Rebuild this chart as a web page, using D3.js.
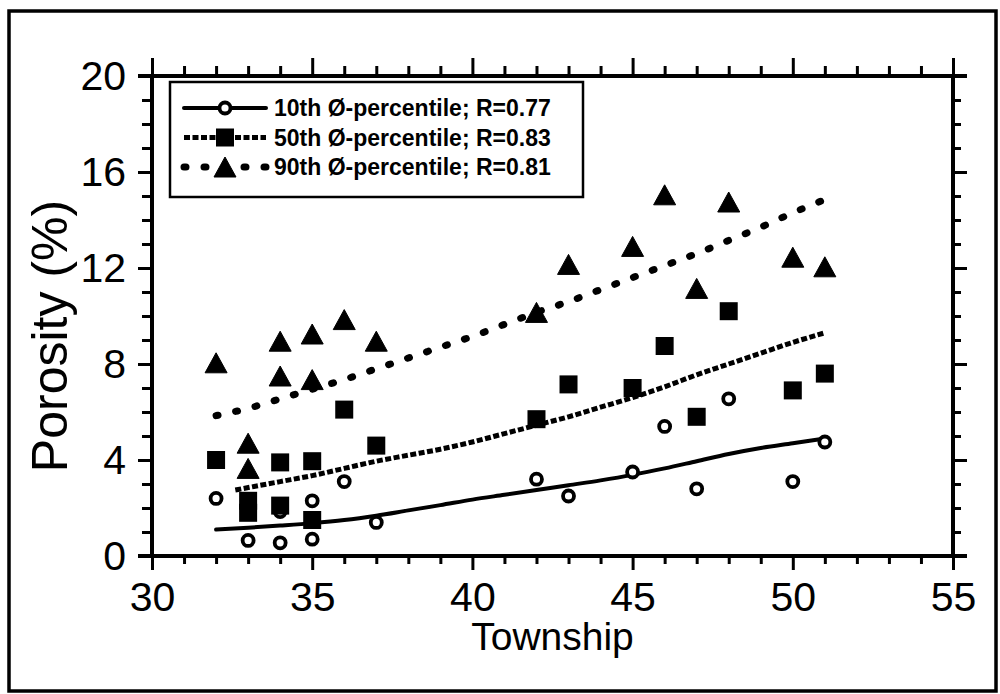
<!DOCTYPE html>
<html>
<head>
<meta charset="utf-8">
<script src="https://cdn.jsdelivr.net/npm/d3@7"></script>
<style>
  html, body { margin: 0; padding: 0; background: #fff; }
  svg { display: block; }
  text { font-family: "Liberation Sans", Arial, Helvetica, sans-serif; fill: #000; }
</style>
</head>
<body>
<svg id="chart" width="1000" height="694"></svg>
<script>
// Porosity percentiles by township, with fitted trend curves.
const townships = [32, 33, 33, 34, 34, 35, 35, 36, 37, 42, 43, 45, 46, 47, 48, 50, 51];
const townships10 = [32, 33, 34, 34, 35, 35, 36, 37, 42, 43, 45, 46, 47, 48, 50, 51];
const porosity10 = [2.4, 0.65, 1.85, 0.55, 2.3, 0.7, 3.1, 1.4, 3.2, 2.5, 3.5, 5.4, 2.8, 6.55, 3.1, 4.75];
const porosity50 = [4.0, 2.3, 1.8, 3.9, 2.1, 3.95, 1.5, 6.1, 4.6, 5.7, 7.15, 7.0, 8.75, 5.8, 10.2, 6.9, 7.6];
const porosity90 = [8.05, 4.7, 3.65, 8.95, 7.5, 9.25, 7.35, 9.85, 8.95, 10.15, 12.15, 12.9, 15.05, 11.15, 14.75, 12.45, 12.05];

// Trend curves
const fitTownship = [32, 33, 34, 35, 36, 37, 38, 39, 40, 41, 42, 43, 44, 45, 46, 47, 48, 49, 50, 51];
const fit10 = [1.1, 1.18, 1.27, 1.37, 1.5, 1.68, 1.9, 2.12, 2.35, 2.55, 2.75, 2.95, 3.15, 3.38, 3.65, 3.95, 4.25, 4.5, 4.7, 4.9];
const fit50Township = [32.6, 34, 35, 36, 37, 38, 39, 40, 41, 42, 43, 44, 45, 46, 47, 48, 49, 50, 51];
const fit50 = [2.75, 3.1, 3.35, 3.65, 3.95, 4.2, 4.45, 4.75, 5.1, 5.45, 5.8, 6.2, 6.6, 7.05, 7.55, 8.0, 8.45, 8.9, 9.3];
const fit90 = [5.85, 6.15, 6.55, 6.95, 7.35, 7.8, 8.25, 8.7, 9.15, 9.65, 10.15, 10.6, 11.1, 11.6, 12.1, 12.6, 13.15, 13.7, 14.3, 14.85];

const legendLabels = [
  "10th Ø-percentile; R=0.77",
  "50th Ø-percentile; R=0.83",
  "90th Ø-percentile; R=0.81"
];

const xTicks = [30, 35, 40, 45, 50, 55];
const yTicks = [0, 4, 8, 12, 16, 20];

const svg = d3.select("#chart");

const x = d3.scaleLinear().domain([30, 55]).range([152, 953]);
const y = d3.scaleLinear().domain([0, 20]).range([556, 76]);

const AX = 4;          // axis line width
const MAJOR = 14, MINOR = 8;
const FONT = 41;

// outer frame
svg.append("rect")
  .attr("x", 9).attr("y", 11).attr("width", 987).attr("height", 680)
  .attr("fill", "none").attr("stroke", "#000").attr("stroke-width", 3.5);

// line styles
const styles = {
  p10: { dash: null, width: 4, cap: "round" },
  p50: { dash: "6,2.5", width: 5, cap: "butt" },
  p90: { dash: "2,18", width: 7, cap: "round" }
};

const line = d3.line().x(d => x(d[0])).y(d => y(d[1])).curve(d3.curveMonotoneX);

function drawFit(xs, ys, st) {
  svg.append("path")
    .datum(xs.map((t, i) => [t, ys[i]]))
    .attr("d", line)
    .attr("fill", "none")
    .attr("stroke", "#000")
    .attr("stroke-width", st.width)
    .attr("stroke-linecap", st.cap)
    .attr("stroke-dasharray", st.dash);
}
drawFit(fitTownship, fit90, styles.p90);
drawFit(fit50Township, fit50, styles.p50);
drawFit(fitTownship, fit10, styles.p10);

// marker shapes
const SQ = 18, TW = 22, TH = 20, CR = 5.5;
function circleMark(g) {
  g.append("circle").attr("r", CR).attr("fill", "#fff").attr("stroke", "#000").attr("stroke-width", 3.8);
}
function squareMark(g) {
  g.append("rect").attr("x", -SQ / 2).attr("y", -SQ / 2).attr("width", SQ).attr("height", SQ).attr("fill", "#000");
}
function triMark(g) {
  g.append("path").attr("d", `M0,${-TH / 2}L${TW / 2},${TH / 2}L${-TW / 2},${TH / 2}Z`)
    .attr("fill", "#000").attr("stroke", "#000").attr("stroke-width", 1).attr("stroke-linejoin", "round");
}

function drawPoints(xs, ys, mark) {
  xs.forEach((t, i) => {
    const g = svg.append("g").attr("transform", `translate(${x(t)},${y(ys[i])})`);
    mark(g);
  });
}
drawPoints(townships10, porosity10, circleMark);
drawPoints(townships, porosity50, squareMark);
drawPoints(townships, porosity90, triMark);

// axes
function styleAxis(g) {
  g.selectAll(".domain").remove();
  g.selectAll(".tick line").attr("stroke", "#000").attr("stroke-width", 3);
  g.selectAll("text").attr("font-size", FONT).attr("font-family", '"Liberation Sans", Arial, sans-serif');
}
const minorX = d3.range(30, 56, 1).filter(v => v % 5 !== 0);
const minorY = d3.range(0, 21, 1).filter(v => v % 4 !== 0);

// bottom
svg.append("g").attr("transform", `translate(0,${y(0)})`)
  .call(d3.axisBottom(x).tickValues(xTicks).tickSize(MAJOR).tickPadding(12).tickFormat(d3.format("d")))
  .call(styleAxis);
svg.append("g").attr("transform", `translate(0,${y(0)})`)
  .call(d3.axisBottom(x).tickValues(minorX).tickSize(MINOR).tickFormat(""))
  .call(styleAxis);
// top
svg.append("g").attr("transform", `translate(0,${y(20)})`)
  .call(d3.axisTop(x).tickValues(xTicks).tickSize(MAJOR + 4).tickFormat(""))
  .call(styleAxis);
svg.append("g").attr("transform", `translate(0,${y(20)})`)
  .call(d3.axisTop(x).tickValues(minorX).tickSize(MINOR + 2).tickFormat(""))
  .call(styleAxis);
// left
svg.append("g").attr("transform", `translate(${x(30)},0)`)
  .call(d3.axisLeft(y).tickValues(yTicks).tickSize(MAJOR).tickPadding(12).tickFormat(d3.format("d")))
  .call(styleAxis);
svg.append("g").attr("transform", `translate(${x(30)},0)`)
  .call(d3.axisLeft(y).tickValues(minorY).tickSize(MINOR + 2).tickFormat(""))
  .call(styleAxis);
// right
svg.append("g").attr("transform", `translate(${x(55)},0)`)
  .call(d3.axisRight(y).tickValues(yTicks).tickSize(MAJOR).tickFormat(""))
  .call(styleAxis);
svg.append("g").attr("transform", `translate(${x(55)},0)`)
  .call(d3.axisRight(y).tickValues(minorY).tickSize(MINOR).tickFormat(""))
  .call(styleAxis);

// plot box lines
const ext = 14;
svg.append("line").attr("x1", x(30) - ext).attr("x2", x(55) + ext).attr("y1", y(0)).attr("y2", y(0))
  .attr("stroke", "#000").attr("stroke-width", AX);
svg.append("line").attr("x1", x(30) - ext).attr("x2", x(55) + ext).attr("y1", y(20)).attr("y2", y(20))
  .attr("stroke", "#000").attr("stroke-width", AX);
svg.append("line").attr("x1", x(30)).attr("x2", x(30)).attr("y1", y(20)).attr("y2", y(0))
  .attr("stroke", "#000").attr("stroke-width", AX);
svg.append("line").attr("x1", x(55)).attr("x2", x(55)).attr("y1", y(20)).attr("y2", y(0))
  .attr("stroke", "#000").attr("stroke-width", AX);

// axis titles
svg.append("text")
  .attr("x", (x(30) + x(55)) / 2).attr("y", 650)
  .attr("text-anchor", "middle").attr("font-size", 39)
  .text("Township");
svg.append("text")
  .attr("transform", `translate(67,${(y(0) + y(20)) / 2 + 20}) rotate(-90)`)
  .attr("text-anchor", "middle").attr("font-size", 50)
  .text("Porosity (%)");

// legend
const lg = svg.append("g");
lg.append("rect").attr("x", 170).attr("y", 82).attr("width", 413).attr("height", 115)
  .attr("fill", "#fff").attr("stroke", "#000").attr("stroke-width", 2.5);
const legendRows = [
  { st: styles.p10, mark: circleMark },
  { st: styles.p50, mark: squareMark },
  { st: styles.p90, mark: triMark }
];
legendRows.forEach((r, i) => {
  const cy = 108 + i * 29.5;
  lg.append("line").attr("x1", 184).attr("x2", 266).attr("y1", cy).attr("y2", cy)
    .attr("stroke", "#000").attr("stroke-width", r.st.width)
    .attr("stroke-linecap", r.st.cap).attr("stroke-dasharray", r.st.dash);
  const g = lg.append("g").attr("transform", `translate(225,${cy})`);
  r.mark(g);
  lg.append("text").attr("x", 274).attr("y", cy + 8)
    .attr("font-size", 23).attr("font-weight", "bold")
    .text(legendLabels[i]);
});
</script>
</body>
</html>
